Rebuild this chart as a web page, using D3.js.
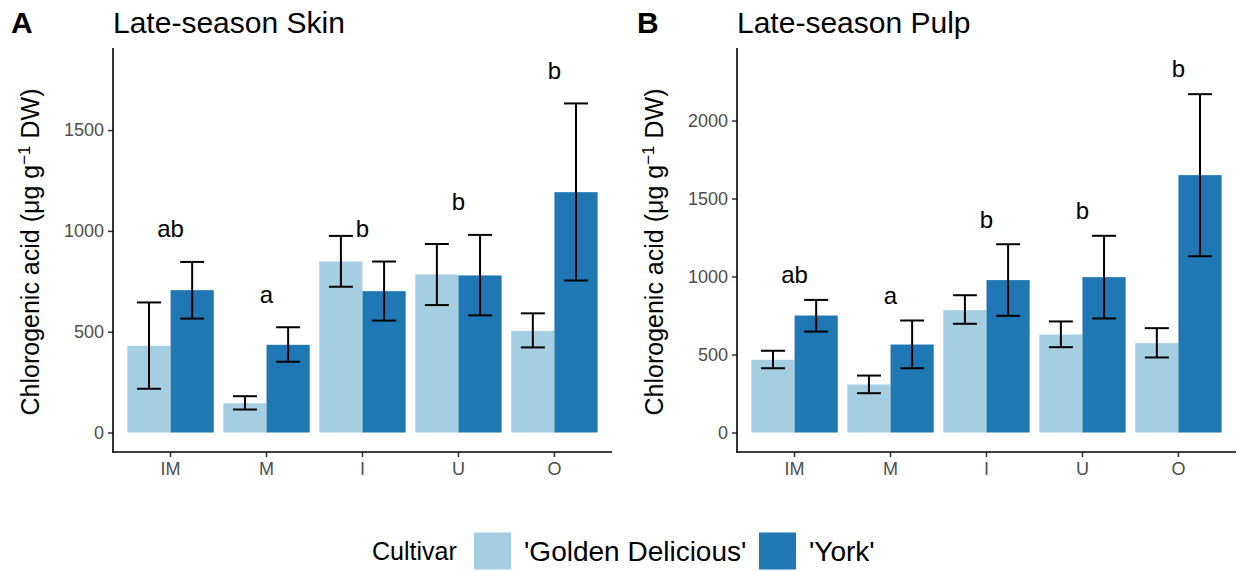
<!DOCTYPE html>
<html>
<head>
<meta charset="utf-8">
<script src="https://cdn.jsdelivr.net/npm/d3@7"></script>
<style>
  body { margin: 0; background: #fff; }
  svg { display: block; font-family: "Liberation Sans", Arial, sans-serif; }
</style>
</head>
<body>
<svg id="chart" width="1238" height="571"></svg>
<script>
// ---------- data ----------
const categories = ["IM", "M", "I", "U", "O"];
const cultivars = ["'Golden Delicious'", "'York'"];
const colors = ["#A6CEE3", "#1F78B4"];

const skinGolden   = [430, 145, 848, 784, 504];
const skinGoldenLo = [217, 114, 723, 632, 422];
const skinGoldenHi = [645, 180, 975, 935, 591];
const skinYork     = [706, 435, 701, 779, 1192];
const skinYorkLo   = [565, 351, 555, 581, 754];
const skinYorkHi   = [846, 522, 848, 980, 1632];
const skinLetters  = ["ab", "a", "b", "b", "b"];
const skinLetterY  = [1011, 687, 1014, 1146, 1798];
const skinTicks    = [0, 500, 1000, 1500];

const pulpGolden   = [466, 308, 784, 628, 573];
const pulpGoldenLo = [412, 252, 697, 547, 481];
const pulpGoldenHi = [524, 365, 880, 712, 669];
const pulpYork     = [750, 564, 977, 996, 1650];
const pulpYorkLo   = [647, 412, 748, 731, 1130];
const pulpYorkHi   = [850, 718, 1207, 1261, 2169];
const pulpLetters  = ["ab", "a", "b", "b", "b"];
const pulpLetterY  = [1013, 878, 1365, 1425, 2333];
const pulpTicks    = [0, 500, 1000, 1500, 2000];

// ---------- drawing ----------
const svg = d3.select("#chart");
const panelTop = 48, panelBottom = 452;

function panel(opts) {
  const g = svg.append("g");
  const x = d3.scaleBand().domain(categories)
    .range([opts.left, opts.right]).paddingInner(0.1).paddingOuter(0.15);
  const xs = d3.scaleBand().domain(cultivars).range([0, x.bandwidth()]);
  const y = d3.scaleLinear().domain(opts.yDomain).range([panelBottom, panelTop]);

  const rows = [];
  categories.forEach((c, i) => {
    rows.push({cat: c, cv: cultivars[0], v: opts.g[i], lo: opts.gLo[i], hi: opts.gHi[i], col: colors[0]});
    rows.push({cat: c, cv: cultivars[1], v: opts.y[i], lo: opts.yLo[i], hi: opts.yHi[i], col: colors[1]});
  });

  g.selectAll("rect.bar").data(rows).join("rect")
    .attr("class", "bar")
    .attr("x", d => x(d.cat) + xs(d.cv))
    .attr("width", xs.bandwidth())
    .attr("y", d => y(d.v))
    .attr("height", d => y(0) - y(d.v))
    .attr("fill", d => d.col);

  const capW = x.step() * 0.25;
  const cx = d => x(d.cat) + xs(d.cv) + xs.bandwidth() / 2;
  const eb = g.selectAll("g.eb").data(rows).join("g").attr("class", "eb")
    .attr("stroke", "#000").attr("stroke-width", 2).attr("fill", "none");
  eb.append("line").attr("x1", cx).attr("x2", cx)
    .attr("y1", d => y(d.lo)).attr("y2", d => y(d.hi));
  eb.append("line").attr("x1", d => cx(d) - capW / 2).attr("x2", d => cx(d) + capW / 2)
    .attr("y1", d => y(d.lo)).attr("y2", d => y(d.lo));
  eb.append("line").attr("x1", d => cx(d) - capW / 2).attr("x2", d => cx(d) + capW / 2)
    .attr("y1", d => y(d.hi)).attr("y2", d => y(d.hi));

  // letters
  g.selectAll("text.letter").data(categories).join("text")
    .attr("class", "letter")
    .attr("x", d => x(d) + x.bandwidth() / 2)
    .attr("y", (d, i) => y(opts.letterY[i]))
    .attr("dy", "0.36em")
    .attr("text-anchor", "middle")
    .attr("font-size", 24)
    .attr("fill", "#000")
    .text((d, i) => opts.letters[i]);

  // axes
  const yAxis = d3.axisLeft(y).tickValues(opts.ticks).tickSize(5).tickPadding(4).tickFormat(d3.format("d"));
  const ya = g.append("g").attr("transform", `translate(${opts.left},0)`).call(yAxis);
  const xAxis = d3.axisBottom(x).tickSize(5).tickPadding(5);
  const xa = g.append("g").attr("transform", `translate(0,${panelBottom})`).call(xAxis);
  [ya, xa].forEach(a => {
    a.select(".domain").remove();
    a.selectAll(".tick line").attr("stroke", "#333").attr("stroke-width", 1.5);
    a.selectAll(".tick text").attr("fill", "#4D4D4D").attr("font-size", 18)
      .attr("font-family", "Liberation Sans, Arial, sans-serif");
  });
  // axis lines
  g.append("line").attr("x1", opts.left).attr("x2", opts.left)
    .attr("y1", panelTop).attr("y2", panelBottom + 0.8)
    .attr("stroke", "#000").attr("stroke-width", 1.6);
  g.append("line").attr("x1", opts.left - 0.8).attr("x2", opts.right)
    .attr("y1", panelBottom).attr("y2", panelBottom)
    .attr("stroke", "#000").attr("stroke-width", 1.6);

  // y title
  const yt = g.append("text")
    .attr("transform", `translate(${opts.ytitleX},${(panelTop + panelBottom) / 2 + 2}) rotate(-90)`)
    .attr("text-anchor", "middle").attr("font-size", 25).attr("fill", "#000");
  yt.append("tspan").text("Chlorogenic acid (\u03BCg g");
  yt.append("tspan").attr("dy", -9).attr("font-size", 17).text("\u22121");
  yt.append("tspan").attr("dy", 9).text(" DW)");

  // titles
  svg.append("text").attr("x", opts.tagX).attr("y", 33)
    .attr("font-size", 30).attr("font-weight", "bold").attr("fill", "#000").text(opts.tag);
  svg.append("text").attr("x", opts.left).attr("y", 33)
    .attr("font-size", 30).attr("fill", "#000").text(opts.title);
}

panel({
  left: 113, right: 612, yDomain: [-96.7, 1907], ticks: skinTicks,
  g: skinGolden, gLo: skinGoldenLo, gHi: skinGoldenHi,
  y: skinYork, yLo: skinYorkLo, yHi: skinYorkHi,
  letters: skinLetters, letterY: skinLetterY,
  title: "Late-season Skin", tag: "A", tagX: 11, ytitleX: 39
});
panel({
  left: 737, right: 1236, yDomain: [-125, 2465], ticks: pulpTicks,
  g: pulpGolden, gLo: pulpGoldenLo, gHi: pulpGoldenHi,
  y: pulpYork, yLo: pulpYorkLo, yHi: pulpYorkHi,
  letters: pulpLetters, letterY: pulpLetterY,
  title: "Late-season Pulp", tag: "B", tagX: 637, ytitleX: 663
});

// legend
const lg = svg.append("g");
const legY = 551, keyS = 37;
lg.append("text").attr("x", 372).attr("y", legY).attr("dy", "0.36em")
  .attr("font-size", 25).attr("fill", "#000").text("Cultivar");
const keyX = [474, 759], textX = [524, 809];
cultivars.forEach((c, i) => {
  lg.append("rect").attr("x", keyX[i]).attr("y", legY - keyS / 2).attr("width", keyS).attr("height", keyS)
    .attr("fill", colors[i]);
  lg.append("text").attr("x", textX[i]).attr("y", legY).attr("dy", "0.36em")
    .attr("font-size", 28).attr("fill", "#000").text(c);
});
</script>
</body>
</html>
